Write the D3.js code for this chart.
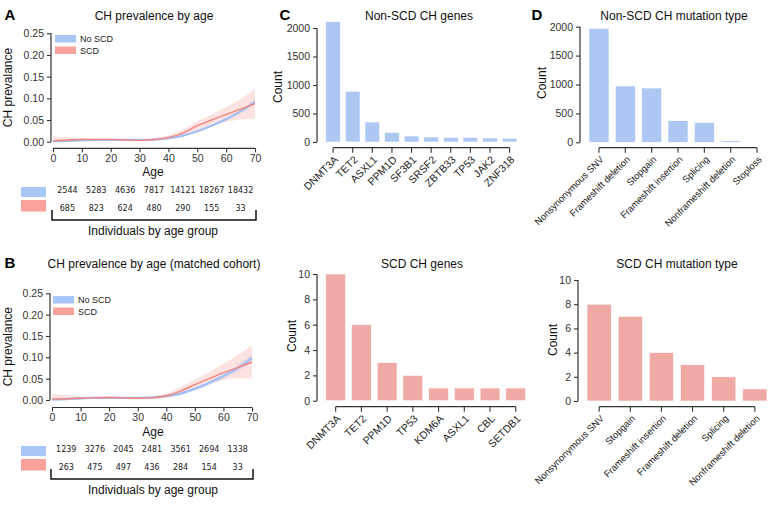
<!DOCTYPE html>
<html><head><meta charset="utf-8">
<script src="https://cdn.jsdelivr.net/npm/d3@7"></script>
<style>body{margin:0;background:#fff}svg{display:block}text{font-family:"Liberation Sans",Arial,sans-serif}</style>
</head><body>
<script>
// ---------- DATA ----------
const ages = [0,5,10,15,20,25,30,35,40,45,50,55,60,65,70];
const ageTicks = [0,10,20,30,40,50,60,70];
const prevTicks = [0,0.05,0.10,0.15,0.20,0.25];
const ageGroupMid = [5,15,25,35,45,55,65];

const aNoScd   = [0.001,0.002,0.003,0.004,0.004,0.004,0.004,0.005,0.008,0.014,0.024,0.037,0.052,0.070,0.092];
const aNoScdLo = [0.000,0.001,0.002,0.003,0.003,0.003,0.003,0.004,0.007,0.013,0.022,0.035,0.049,0.066,0.086];
const aNoScdHi = [0.003,0.003,0.004,0.005,0.005,0.005,0.005,0.006,0.009,0.015,0.026,0.039,0.055,0.074,0.098];
const aScd     = [0.002,0.004,0.005,0.005,0.005,0.004,0.003,0.005,0.010,0.020,0.037,0.050,0.063,0.075,0.088];
const aScdLo   = [0.000,0.001,0.002,0.003,0.003,0.002,0.001,0.002,0.005,0.012,0.026,0.037,0.046,0.051,0.053];
const aScdHi   = [0.012,0.010,0.008,0.007,0.007,0.006,0.006,0.008,0.015,0.028,0.047,0.063,0.080,0.098,0.122];

const bNoScd   = [0.001,0.002,0.004,0.005,0.005,0.005,0.005,0.006,0.009,0.015,0.026,0.040,0.056,0.075,0.098];
const bNoScdLo = [0.000,0.001,0.002,0.003,0.004,0.004,0.004,0.005,0.007,0.012,0.022,0.035,0.050,0.067,0.088];
const bNoScdHi = [0.003,0.004,0.005,0.006,0.006,0.006,0.006,0.007,0.011,0.018,0.030,0.045,0.062,0.083,0.108];
const bScd     = [0.002,0.003,0.004,0.005,0.006,0.005,0.004,0.005,0.010,0.021,0.036,0.050,0.064,0.076,0.089];
const bScdLo   = [0.000,0.001,0.002,0.003,0.003,0.002,0.001,0.002,0.005,0.013,0.026,0.037,0.047,0.051,0.051];
const bScdHi   = [0.015,0.011,0.009,0.008,0.008,0.007,0.007,0.009,0.015,0.030,0.048,0.065,0.085,0.105,0.128];

const aNoScdCounts = [2544,5283,4636,7817,14121,18267,18432];
const aScdCounts   = [685,823,624,480,290,155,33];
const bNoScdCounts = [1239,3276,2045,2481,3561,2694,1338];
const bScdCounts   = [263,475,497,436,284,154,33];

const nonScdGenes = ["DNMT3A","TET2","ASXL1","PPM1D","SF3B1","SRSF2","ZBTB33","TP53","JAK2","ZNF318"];
const nonScdGeneCounts = [2110,890,350,170,105,88,82,82,70,65];
const scdGenes = ["DNMT3A","TET2","PPM1D","TP53","KDM6A","ASXL1","CBL","SETDB1"];
const scdGeneCounts = [10,6,3,2,1,1,1,1];
const nonScdTypes = ["Nonsynonymous SNV","Frameshift deletion","Stopgain","Frameshift insertion","Splicing","Nonframeshift deletion","Stoploss"];
const nonScdTypeCounts = [1972,974,939,374,339,25,3];
const scdTypes = ["Nonsynonymous SNV","Stopgain","Frameshift insertion","Frameshift deletion","Splicing","Nonframeshift deletion"];
const scdTypeCounts = [8,7,4,3,2,1];
const bigTicks = [0,500,1000,1500,2000];
const smallTicks = [0,2,4,6,8,10];

// ---------- STYLE ----------
const BLUE = "#aec8f3", RED = "#f0aaa5";
const BLUE_LINE = "#a3c0f5", RED_LINE = "#f3857f";
const BLUE_PATCH = "#a9c6f8", RED_PATCH = "#f9a29b";
const AX = "#333";

const svg = d3.select("body").append("svg").attr("width",773).attr("height",505);

function styleAxis(g, fs){
  g.select(".domain").remove();
  g.selectAll(".tick line").attr("stroke",AX).attr("stroke-width",1.1);
  g.selectAll(".tick text").attr("fill","#333").style("font-size",fs+"px").style("font-family","'Liberation Sans',Arial,sans-serif");
}
function leftAxis(scale, x, ticks, fmt){
  const g = svg.append("g").attr("transform",`translate(${x},0)`)
    .call(d3.axisLeft(scale).tickValues(ticks).tickFormat(fmt).tickSize(4).tickPadding(3));
  styleAxis(g,10.5);
  g.append("line").attr("x1",0).attr("x2",0).attr("y1",scale(ticks[0])).attr("y2",scale(ticks[ticks.length-1]))
    .attr("stroke",AX).attr("stroke-width",1.2);
  return g;
}
function txt(x,y,s,opt={}){
  const t = svg.append("text").attr("x",x).attr("y",y).text(s)
    .attr("text-anchor",opt.anchor||"middle").style("font-size",(opt.size||12)+"px").attr("fill",opt.fill||"#111");
  if(opt.weight) t.style("font-weight",opt.weight);
  if(opt.rotate) t.attr("transform",`rotate(${opt.rotate},${x},${y})`);
  if(opt.family) t.style("font-family",opt.family);
  return t;
}

// ---------- LINE PANELS ----------
function linePanel(cfg){
  const x = d3.scaleLinear().domain([0,70]).range([cfg.x0,cfg.x1]);
  const y = d3.scaleLinear().domain([0,0.25]).range([cfg.y0,cfg.y1]);
  const area = (lo,hi)=>d3.area().x((d,i)=>x(ages[i])).y0((d,i)=>y(lo[i])).y1((d,i)=>y(hi[i])).curve(d3.curveMonotoneX)(ages);
  const line = (v)=>d3.line().x((d,i)=>x(ages[i])).y((d,i)=>y(v[i])).curve(d3.curveMonotoneX)(ages);
  svg.append("path").attr("d",area(cfg.nLo,cfg.nHi)).attr("fill","#c8dafb").attr("opacity",0.5);
  svg.append("path").attr("d",area(cfg.sLo,cfg.sHi)).attr("fill","#f7b9b6").attr("opacity",0.4);
  svg.append("path").attr("d",line(cfg.n)).attr("fill","none").attr("stroke",BLUE_LINE).attr("stroke-width",2.2);
  svg.append("path").attr("d",line(cfg.s)).attr("fill","none").attr("stroke",RED_LINE).attr("stroke-width",1.4);

  leftAxis(y, cfg.ax, prevTicks, d3.format(".2f"));
  const gx = svg.append("g").attr("transform",`translate(0,${cfg.xs})`)
    .call(d3.axisBottom(x).tickValues(ageTicks).tickSize(4).tickPadding(2));
  styleAxis(gx,10.5);
  gx.append("line").attr("x1",x(0)).attr("x2",x(70)).attr("stroke",AX).attr("stroke-width",1.2);

  // legend
  const lg = [["No SCD",BLUE_PATCH],["SCD",RED_PATCH]];
  lg.forEach((d,i)=>{
    svg.append("rect").attr("x",cfg.lx).attr("y",cfg.ly+i*11.5).attr("width",21).attr("height",7.5).attr("fill",d[1]);
    txt(cfg.lx+25,cfg.ly+i*11.5+7,d[0],{anchor:"start",size:9,fill:"#222"});
  });
  txt(12, (cfg.y0+cfg.y1)/2, "CH prevalance", {rotate:-90, size:12});
  txt(154, cfg.ty, cfg.title, {size:12});
  txt(153, cfg.xs+28, "Age", {size:12});

  // table
  svg.append("rect").attr("x",21).attr("y",cfg.r1-3).attr("width",25).attr("height",10).attr("fill",BLUE_PATCH);
  svg.append("rect").attr("x",21).attr("y",cfg.r2-8).attr("width",25).attr("height",11.5).attr("fill",RED_PATCH);
  const rows=[[cfg.c1,cfg.r1+3],[cfg.c2,cfg.r2+3]];
  rows.forEach(([vals,yy])=>{
    vals.forEach((v,i)=>txt(x(ageGroupMid[i]), yy, v, {size:8, fill:"#222", family:"'DejaVu Sans',sans-serif"}));
  });
  const by = cfg.r2+12;
  svg.append("path").attr("d",`M${cfg.ax+1},${by-10}V${by}H${cfg.x1+1}V${by-10}`)
    .attr("fill","none").attr("stroke","#111").attr("stroke-width",1.5);
  txt(153, by+15, "Individuals by age group", {size:12});
}

linePanel({x0:53,x1:255,y0:141.7,y1:33.3,ax:51,xs:148.3,lx:55,ly:35,title:"CH prevalence by age",ty:20,
  n:aNoScd,nLo:aNoScdLo,nHi:aNoScdHi,s:aScd,sLo:aScdLo,sHi:aScdHi,c1:aNoScdCounts,c2:aScdCounts,r1:190,r2:208});
linePanel({x0:52,x1:252,y0:400,y1:293.3,ax:50,xs:407.5,lx:53,ly:296,title:"CH prevalence by age (matched cohort)",ty:268,
  n:bNoScd,nLo:bNoScdLo,nHi:bNoScdHi,s:bScd,sLo:bScdLo,sHi:bScdHi,c1:bNoScdCounts,c2:bScdCounts,r1:449,r2:467});

// ---------- BAR PANELS ----------
function barPanel(cfg){
  const x = d3.scaleBand().domain(cfg.cats).range([cfg.r0,cfg.r1]).paddingInner(cfg.pad).paddingOuter(cfg.pad/2);
  const y = d3.scaleLinear().domain([0,cfg.ticks[cfg.ticks.length-1]]).range([cfg.y0,cfg.yTop]);
  svg.append("g").selectAll("rect").data(cfg.cats).join("rect")
    .attr("x",d=>x(d)).attr("width",x.bandwidth())
    .attr("y",(d,i)=>y(cfg.vals[i])).attr("height",(d,i)=>cfg.y0-y(cfg.vals[i]))
    .attr("fill",cfg.color).attr("stroke","#fff").attr("stroke-width",0.6);
  leftAxis(y, cfg.ax, cfg.ticks, d3.format("d"));
  const gx = svg.append("g").attr("transform",`translate(0,${cfg.xs})`)
    .call(d3.axisBottom(x).tickSize(5).tickFormat(""));
  styleAxis(gx,10);
  gx.selectAll(".tick text").remove();
  const c0 = x(cfg.cats[0])+x.bandwidth()/2, c1 = x(cfg.cats[cfg.cats.length-1])+x.bandwidth()/2;
  gx.append("line").attr("x1",c0).attr("x2",c1).attr("stroke",AX).attr("stroke-width",1.2);
  cfg.cats.forEach(c=>{
    const cx = x(c)+x.bandwidth()/2 + 3, cy = cfg.xs+10;
    svg.append("text").attr("transform",`translate(${cx},${cy}) rotate(-45)`)
      .attr("text-anchor","end").attr("dy","0.35em").text(c)
      .style("font-size",cfg.lfs+"px").attr("fill","#222");
  });
  txt(cfg.cx, cfg.cy, "Count", {rotate:-90, size:12});
  txt(cfg.tx, cfg.ty, cfg.title, {size:12});
}

barPanel({cats:nonScdGenes,vals:nonScdGeneCounts,ticks:bigTicks,r0:323.3,r1:519.4,pad:0.25,y0:142,yTop:28,ax:317,xs:147.7,
  color:BLUE,lfs:10.5,cx:282,cy:87,tx:419,ty:20,title:"Non-SCD CH genes"});
barPanel({cats:scdGenes,vals:scdGeneCounts,ticks:smallTicks,r0:322.8,r1:528.6,pad:0.23,y0:400.7,yTop:274,ax:317,xs:406.7,
  color:RED,lfs:10.5,cx:296,cy:336,tx:422,ty:268,title:"SCD CH genes"});
barPanel({cats:nonScdTypes,vals:nonScdTypeCounts,ticks:bigTicks,r0:585.8,r1:770.2,pad:0.24,y0:142.3,yTop:26.7,ax:580,xs:147.7,
  color:BLUE,lfs:9.5,cx:546,cy:83,tx:674,ty:20,title:"Non-SCD CH mutation type"});
barPanel({cats:scdTypes,vals:scdTypeCounts,ticks:smallTicks,r0:583.6,r1:770.4,pad:0.22,y0:401,yTop:280,ax:578,xs:406.7,
  color:RED,lfs:9.5,cx:557,cy:340,tx:677,ty:268,title:"SCD CH mutation type"});

// panel letters
[["A",10,20],["B",10,268],["C",285,20],["D",537,20]].forEach(d=>txt(d[1],d[2],d[0],{size:15,weight:"bold",fill:"#000"}));
</script>
</body></html>
